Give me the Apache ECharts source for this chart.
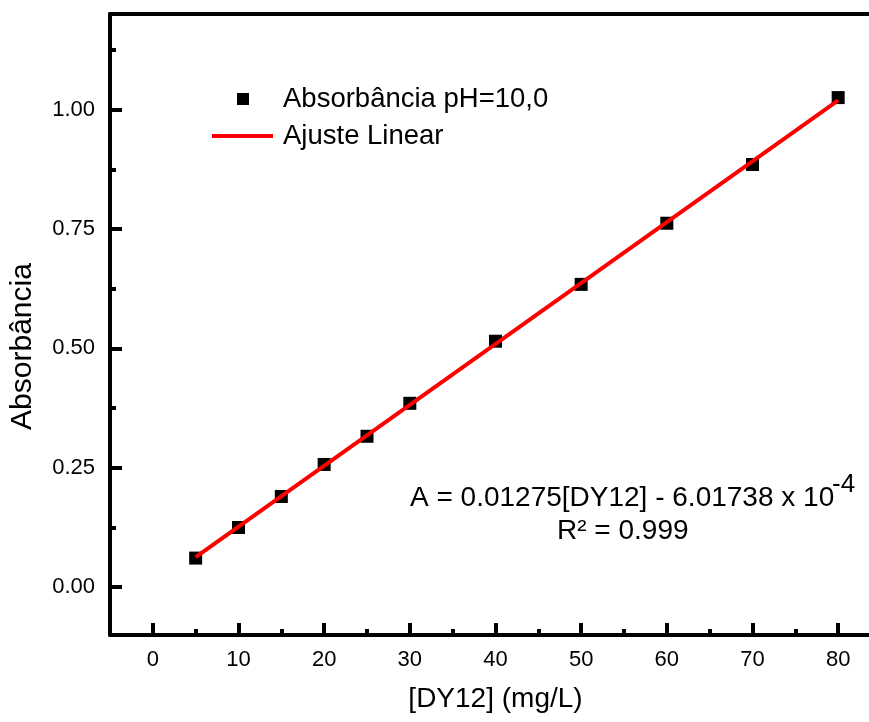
<!DOCTYPE html>
<html><head><meta charset="utf-8">
<script src="https://cdn.jsdelivr.net/npm/echarts@6/dist/echarts.min.js"></script>
<style>html,body{margin:0;padding:0;background:#fff}#c{width:869px;height:722px}</style>
</head><body><div id="c"></div>
<script>
const concentrations = [5, 10, 15, 20, 25, 30, 40, 50, 60, 70, 80];
const absorbances = [0.061, 0.125, 0.190, 0.257, 0.316, 0.385, 0.515, 0.634, 0.762, 0.885, 1.025];
const fitX = [5, 80];
const fitY = [0.063, 1.019];
const xTickValues = [0, 10, 20, 30, 40, 50, 60, 70, 80];
const xMinorTicks = [5, 15, 25, 35, 45, 55, 65, 75];
const yTickValues = [0, 0.25, 0.5, 0.75, 1.0];
const yMinorTicks = [0.125, 0.375, 0.625, 0.875, 1.125];
const seriesNames = ['Absorbância pH=10,0', 'Ajuste Linear'];
const xTitle = '[DY12] (mg/L)';
const yTitle = 'Absorbância';
const eqText = 'A = 0.01275[DY12] - 6.01738 x 10';
const eqExp = '-4';
const r2Text = 'R² = 0.999';

const FF = '"Liberation Sans", Arial, sans-serif';
const chart = echarts.init(document.getElementById('c'), null, {renderer: 'canvas'});

const scatterData = concentrations.map((x, i) => [x, absorbances[i]]);
const fitData = fitX.map((x, i) => [x, fitY[i]]);

const black = '#000';
const X_MIN = -5, X_MAX = 83.6, Y_MIN = -0.1, Y_MAX = 1.2;
function baseX(extra) {
  return Object.assign({
    type: 'value', min: X_MIN, max: X_MAX, splitLine: {show: false},
    axisLine: {onZero: false, show: false},
    axisTick: {show: false}, axisLabel: {show: false}
  }, extra);
}
function baseY(extra) {
  return Object.assign({
    type: 'value', min: Y_MIN, max: Y_MAX, splitLine: {show: false},
    axisLine: {onZero: false, show: false},
    axisTick: {show: false}, axisLabel: {show: false}
  }, extra);
}

chart.setOption({
  animation: false,
  backgroundColor: '#fff',
  textStyle: {fontFamily: FF},
  grid: {left: 109, top: 14, right: 0, height: 621, containLabel: false},
  xAxis: [
    baseX({
      position: 'bottom',
      axisLine: {show: true, onZero: false, lineStyle: {color: black, width: 4}},
      axisTick: {show: true, inside: true, length: 12, lineStyle: {color: black, width: 4}, customValues: xTickValues},
      axisLabel: {show: true, customValues: xTickValues, fontSize: 22, color: black, margin: 14, fontFamily: FF},
      name: xTitle, nameLocation: 'middle', nameGap: 50,
      nameTextStyle: {fontSize: 28, color: black, fontFamily: FF, padding: [0, 0, 0, 12]}
    }),
    baseX({
      position: 'bottom',
      axisTick: {show: true, inside: true, length: 6, lineStyle: {color: black, width: 4}, customValues: xMinorTicks}
    }),
    baseX({
      position: 'top',
      axisLine: {show: true, onZero: false, lineStyle: {color: black, width: 4}}
    })
  ],
  yAxis: [
    baseY({
      position: 'left',
      axisLine: {show: true, onZero: false, lineStyle: {color: black, width: 4}},
      axisTick: {show: true, inside: true, length: 12, lineStyle: {color: black, width: 4}, customValues: yTickValues},
      axisLabel: {show: true, customValues: yTickValues, fontSize: 22, color: black, margin: 15, fontFamily: FF,
        formatter: v => v.toFixed(2)},
      name: yTitle, nameLocation: 'middle', nameGap: 72, nameRotate: 90,
      nameTextStyle: {fontSize: 30, color: black, fontFamily: FF, padding: [0, 44, 0, 0]}
    }),
    baseY({
      position: 'left',
      axisTick: {show: true, inside: true, length: 6, lineStyle: {color: black, width: 4}, customValues: yMinorTicks}
    })
  ],
  legend: [
    {
      data: [{name: seriesNames[0], icon: 'rect'}],
      left: 237, top: 84, orient: 'vertical', padding: 0,
      itemWidth: 12, itemHeight: 12, selectedMode: false,
      textStyle: {fontSize: 27.5, color: black, fontFamily: FF, lineHeight: 30, padding: [0, 0, 0, 29]}
    },
    {
      data: [{name: seriesNames[1], icon: 'rect'}],
      left: 212, top: 121, orient: 'vertical', padding: 0,
      itemWidth: 61, itemHeight: 4, selectedMode: false,
      textStyle: {fontSize: 27.5, color: black, fontFamily: FF, lineHeight: 30, padding: [0, 0, 0, 5]}
    }
  ],
  series: [
    {
      name: seriesNames[0], type: 'scatter', data: scatterData,
      symbol: 'rect', symbolSize: 13, itemStyle: {color: black, opacity: 1}, z: 2
    },
    {
      name: seriesNames[1], type: 'line', data: fitData, symbol: 'none',
      lineStyle: {color: '#ff0000', width: 4}, itemStyle: {color: '#ff0000'}, z: 3
    }
  ],
  graphic: [
    {type: 'text', x: 410, y: 484, style: {text: eqText, font: '28px ' + FF, fill: black, verticalAlign: 'top', align: 'left'}},
    {type: 'text', x: 832, y: 472, style: {text: eqExp, font: '26px ' + FF, fill: black, verticalAlign: 'top', align: 'left'}},
    {type: 'text', x: 557, y: 517, style: {text: r2Text, font: '28px ' + FF, fill: black, verticalAlign: 'top', align: 'left'}}
  ]
});
</script>
</body></html>
